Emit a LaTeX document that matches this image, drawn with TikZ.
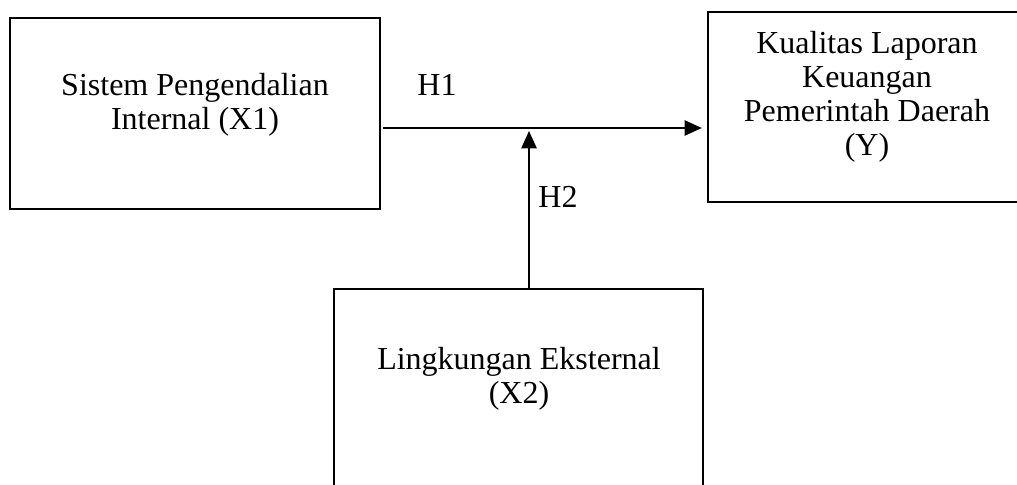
\documentclass[tikz,border=0pt]{standalone}
\usepackage{fontspec}
\setmainfont{Liberation Serif}
\usepackage{tikz}
\usetikzlibrary{arrows.meta}

\begin{document}
\begin{tikzpicture}[x=0.75pt, y=-0.75pt, line width=1.2pt,
		box/.style={draw, rectangle, inner sep=0pt},
		txt/.style={align=center, inner sep=0pt, font=\fontsize{24}{25.5}\selectfont},
		lbl/.style={inner sep=0pt, font=\fontsize{24}{25.5}\selectfont},
		arr/.style={-{Triangle[length=13pt, width=11.5pt]}}]
			\useasboundingbox (0,0) rectangle (1017,485);
			\clip (0,0) rectangle (1017,485);
			% Nodes
			\node[box, minimum width=277.5pt, minimum height=143.25pt] (x1) at (195,113.5) {};
			\node[box, minimum width=241.5pt, minimum height=142.5pt] (y) at (869,107) {};
			\node[box, minimum width=276.75pt, minimum height=188.25pt] (x2) at (518.5,414.5) {};
			\node[txt] (x1txt) at (195,105) {Sistem Pengendalian\\Internal (X1)};
			\node[txt] (ytxt) at (867,97) {Kualitas Laporan\\Keuangan\\Pemerintah Daerah\\(Y)};
			\node[txt] (x2txt) at (519,379) {Lingkungan Eksternal\\(X2)};
			\coordinate (h1s) at (383,128);
			\coordinate (h2s) at (529,289);
			\coordinate (h2e) at (529,131);
			% Edges with labels
			\draw[arr, shorten >=4pt] (h1s) -- (h1s -| y.west);
			\draw[arr] (h2s) -- (h2e);
			\node[lbl] (h1) at (437,85) {H1};
			\node[lbl] (h2) at (558,197) {H2};
		\end{tikzpicture}
\end{document}
